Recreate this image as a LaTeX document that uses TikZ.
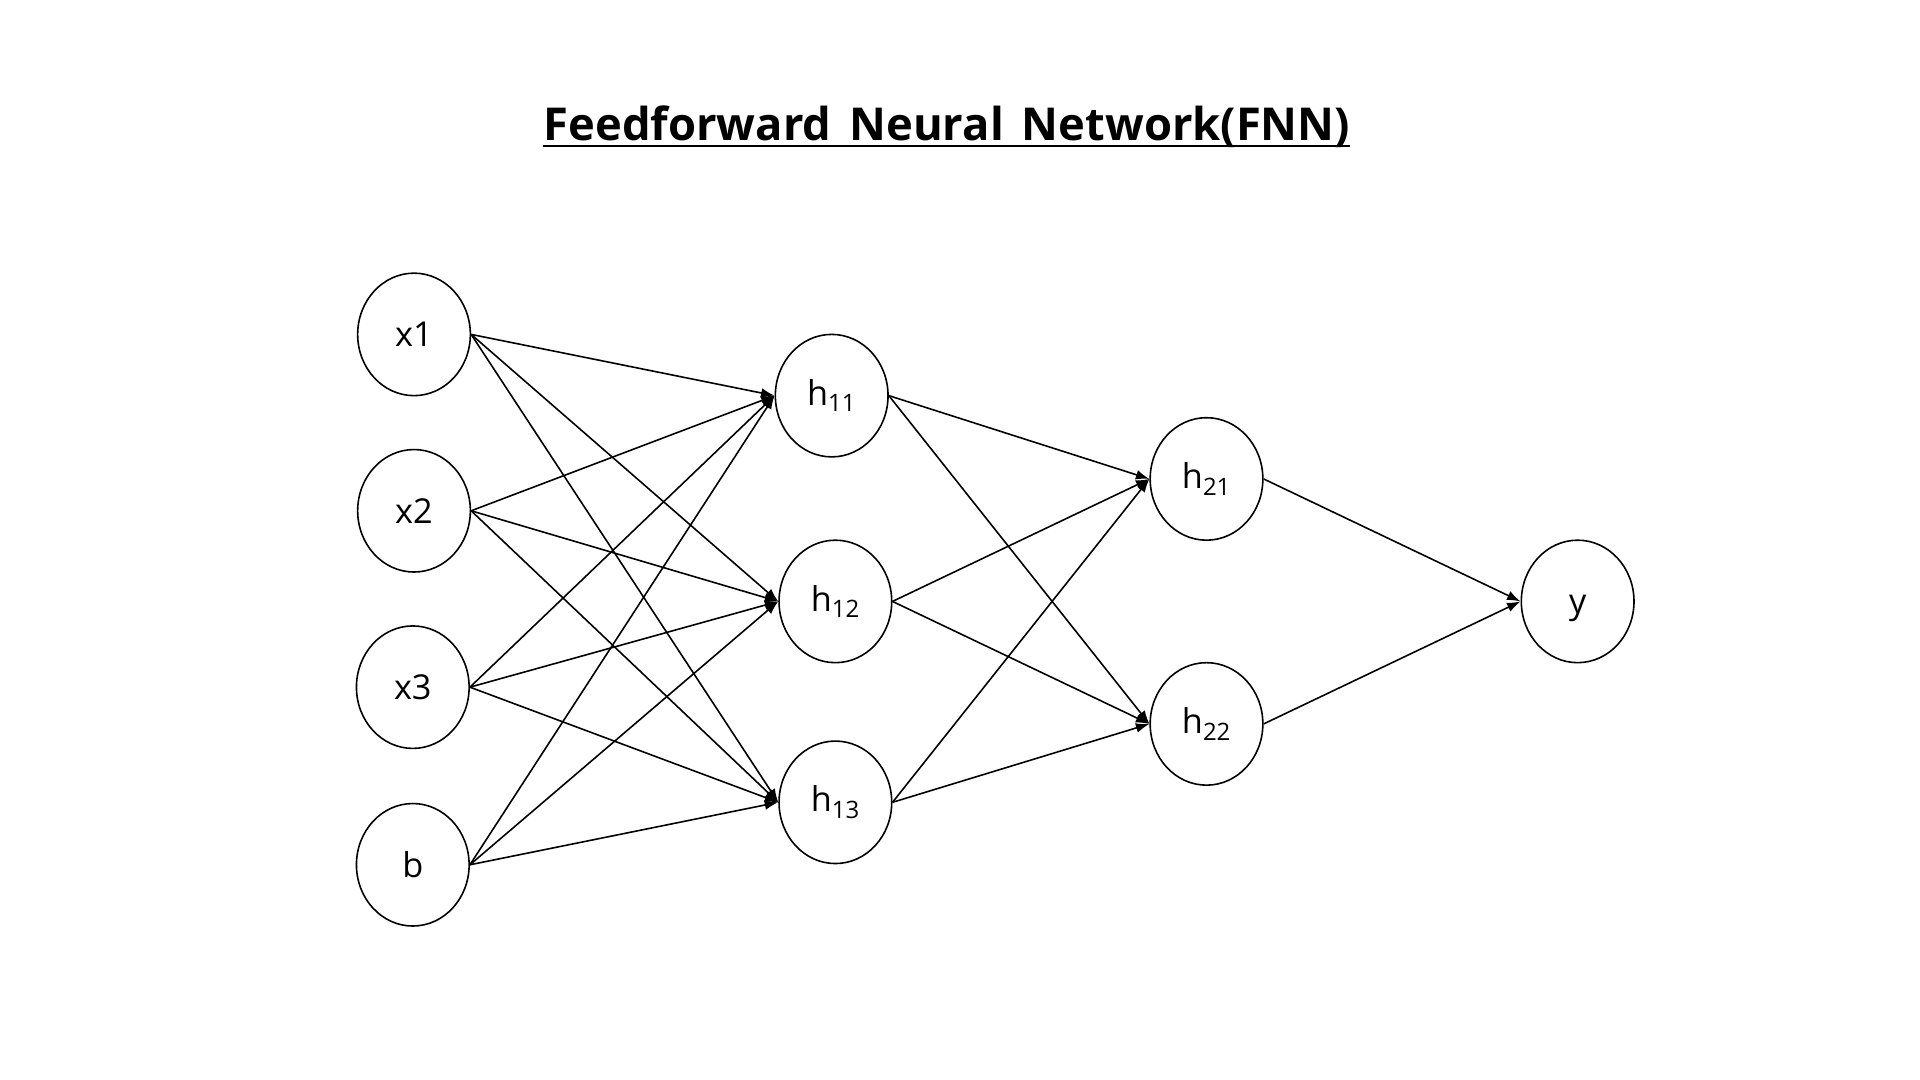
\documentclass[tikz,border=0pt]{standalone}
\usepackage{fontspec}
\setmainfont{Open Sans}
\usetikzlibrary{shapes.geometric,arrows.meta}
\begin{document}
\begin{tikzpicture}[x=1pt,y=-1pt,
  neuron/.style={draw,ellipse,line width=1.3pt,minimum width=92pt,minimum height=100pt,inner sep=0pt,font=\fontsize{28}{30}\selectfont},
  conn/.style={line width=1.3pt,-{Latex[length=11pt,width=8pt]}}]
\useasboundingbox (0,0) rectangle (1567.5,881.7);
\node[inner sep=0pt,anchor=base,font=\bfseries\fontsize{37}{44}\selectfont] (title) at (773,115) {Feedforward\hspace{0.4em}Neural\hspace{0.4em}Network(FNN)};
\draw[line width=2pt] ([yshift=-4pt]title.base west) -- ([yshift=-4pt]title.base east);
\node[neuron] (x1) at (338,273) {x1};
\node[neuron] (x2) at (338,417) {x2};
\node[neuron] (x3) at (337,561) {x3};
\node[neuron] (b) at (337,706) {b};
\node[neuron] (h11) at (679,323) {h\textsubscript{11}};
\node[neuron] (h12) at (682,491) {h\textsubscript{12}};
\node[neuron] (h13) at (682,655) {h\textsubscript{13}};
\node[neuron] (h21) at (985,391) {h\textsubscript{21}};
\node[neuron] (h22) at (985,591) {h\textsubscript{22}};
\node[neuron,text depth=0pt,text height=20pt] (y) at (1288,491) {y};
\foreach \s in {x1,x2,x3,b}{
  \foreach \t in {h11,h12,h13}{
    \draw[conn] (\s.east) -- (\t.west);
  }
}
\foreach \s in {h11,h12,h13}{
  \foreach \t in {h21,h22}{
    \draw[conn] (\s.east) -- (\t.west);
  }
}
\draw[conn] (h21.east) -- (y.west);
\draw[conn] (h22.east) -- (y.west);
\end{tikzpicture}
\end{document}
